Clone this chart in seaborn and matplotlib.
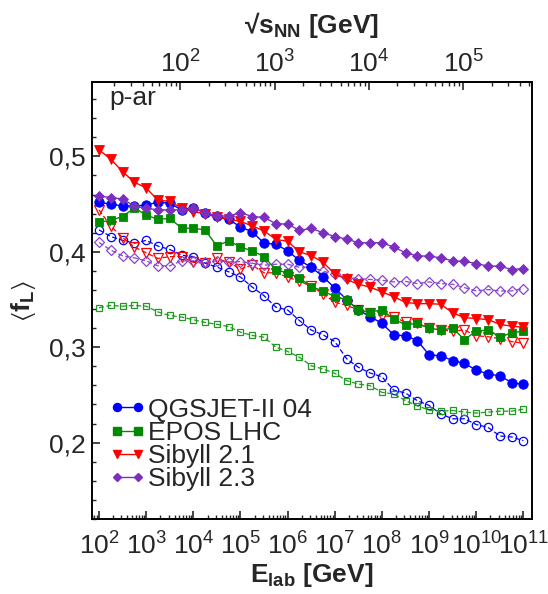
import numpy as np
import pandas as pd
import matplotlib
matplotlib.use("Agg")
import matplotlib.pyplot as plt
from matplotlib import ticker
from matplotlib.lines import Line2D
import seaborn as sns

# Energy grid: log10(E_lab / GeV), quarter-decade steps
log_elab = np.arange(2.0, 11.0001, 0.25)

qgsjet_solid = [0.452, 0.450, 0.448, 0.448, 0.449, 0.452, 0.451, 0.444, 0.446, 0.441,
                0.4375, 0.434, 0.426, 0.421, 0.409, 0.408, 0.401, 0.391, 0.384, 0.374,
                0.362, 0.350, 0.339, 0.332, 0.325, 0.313, 0.312, 0.307, 0.292, 0.291,
                0.286, 0.283, 0.276, 0.272, 0.270, 0.263, 0.261]
qgsjet_dashed = [0.423, 0.416, 0.412, 0.409, 0.412, 0.406, 0.4025, 0.3965, 0.395, 0.388,
                 0.384, 0.379, 0.3735, 0.363, 0.354, 0.342, 0.339, 0.328, 0.318, 0.313,
                 0.306, 0.288, 0.279, 0.273, 0.269, 0.255, 0.252, 0.244, 0.239, 0.230,
                 0.225, 0.225, 0.219, 0.216, 0.207, 0.206, 0.202]
epos_solid = [0.431, 0.433, 0.437, 0.446, 0.4386, 0.434, 0.435, 0.425, 0.4246, 0.423,
              0.406, 0.4116, 0.405, 0.401, 0.395, 0.381, 0.378, 0.3726, 0.3635, 0.359,
              0.353, 0.350, 0.3386, 0.337, 0.339, 0.3295, 0.3235, 0.325, 0.320, 0.318,
              0.320, 0.308, 0.317, 0.318, 0.311, 0.315, 0.317]
epos_dashed = [0.3414, 0.3438, 0.343, 0.3438, 0.343, 0.337, 0.3333, 0.3316, 0.3288, 0.326,
               0.324, 0.3216, 0.3158, 0.3123, 0.3105, 0.300, 0.2956, 0.2894, 0.2806, 0.2772,
               0.2727, 0.265, 0.2614, 0.2597, 0.2527, 0.251, 0.244, 0.2388, 0.234, 0.233,
               0.2337, 0.232, 0.231, 0.232, 0.233, 0.233, 0.2351]
sibyll21_solid = [0.507, 0.497, 0.484, 0.473, 0.467, 0.454, 0.453, 0.446, 0.442, 0.440,
                  0.436, 0.434, 0.432, 0.427, 0.422, 0.413, 0.411, 0.400, 0.396, 0.389,
                  0.377, 0.371, 0.366, 0.363, 0.358, 0.353, 0.347, 0.3457, 0.3457, 0.345,
                  0.336, 0.331, 0.330, 0.329, 0.324, 0.322, 0.321]
sibyll21_dashed = [0.444, 0.427, 0.415, 0.405, 0.399, 0.393, 0.395, 0.395, 0.389, 0.388,
                   0.393, 0.389, 0.382, 0.386, 0.378, 0.378, 0.3735, 0.369, 0.364, 0.356,
                   0.347, 0.344, 0.339, 0.336, 0.333, 0.332, 0.326, 0.325, 0.320, 0.318,
                   0.317, 0.318, 0.312, 0.311, 0.309, 0.306, 0.304]
sibyll23_solid = [0.4586, 0.4568, 0.4554, 0.448, 0.4456, 0.444, 0.444, 0.444, 0.4456, 0.441,
                  0.4375, 0.4375, 0.441, 0.437, 0.436, 0.4295, 0.429, 0.4225, 0.4246, 0.420,
                  0.416, 0.4134, 0.4095, 0.4095, 0.4095, 0.405, 0.399, 0.3958, 0.3954, 0.3937,
                  0.3905, 0.390, 0.3877, 0.385, 0.385, 0.3814, 0.3825]
sibyll23_dashed = [0.4098, 0.4018, 0.3958, 0.3937, 0.3905, 0.3853, 0.3853, 0.3905, 0.3905, 0.3888,
                   0.3905, 0.3895, 0.3897, 0.388, 0.386, 0.387, 0.387, 0.3837, 0.384, 0.3797,
                   0.3765, 0.373, 0.372, 0.371, 0.3702, 0.3684, 0.369, 0.3667, 0.3684, 0.3667,
                   0.366, 0.3625, 0.359, 0.3604, 0.359, 0.359, 0.3614]

model_names = ["QGSJET-II 04", "EPOS LHC", "Sibyll 2.1", "Sibyll 2.3"]
elab_decades = [1e2, 1e3, 1e4, 1e5, 1e6, 1e7, 1e8, 1e9, 1e10, 1e11]
sqrts_decades = [1e2, 1e3, 1e4, 1e5]
y_ticks = [0.2, 0.3, 0.4, 0.5]
y_tick_labels = ["0,2", "0,3", "0,4", "0,5"]

BLUE = "#0000ff"
GREEN = "#008a00"
RED = "#ff0000"
PURPLE = "#7a2fc0"

sns.set_style("ticks")
plt.rcParams["font.family"] = ["Liberation Sans", "DejaVu Sans"]
plt.rcParams["mathtext.fontset"] = "custom"
plt.rcParams["mathtext.rm"] = "Liberation Sans"
plt.rcParams["mathtext.bf"] = "Liberation Sans:bold"
plt.rcParams["mathtext.it"] = "Liberation Sans:italic"
plt.rcParams["mathtext.fallback"] = "stixsans"

FS = 19

fig = plt.figure(figsize=(5.48, 5.94), dpi=100)
ax = fig.add_axes([0.1673, 0.1263, 0.8030, 0.7357])

e_lab = 10 ** log_elab
series = [
    (qgsjet_dashed, BLUE, "o", 6.0, False),
    (epos_dashed, "#1f9a1f", "s", 5.0, False),
    (sibyll21_dashed, RED, "v", 6.5, False),
    (sibyll23_dashed, "#8a45cc", "D", 4.8, False),
    (qgsjet_solid, BLUE, "o", 6.8, True),
    (epos_solid, GREEN, "s", 6.2, True),
    (sibyll21_solid, RED, "v", 7.6, True),
    (sibyll23_solid, PURPLE, "D", 5.3, True),
]
for vals, col, mk, ms, filled in series:
    df = pd.DataFrame({"E": e_lab, "fL": vals})
    sns.lineplot(
        data=df, x="E", y="fL", ax=ax, color=col, marker=mk, markersize=ms,
        markerfacecolor=col if filled else "none", markeredgecolor=col,
        markeredgewidth=0.6 if filled else 0.9,
        linewidth=1.0 if filled else 0.9,
        linestyle="-" if filled else (0, (4, 2)),
        errorbar=None, legend=False,
    )

ax.set_xscale("log")
ax.set_xlim(70, 1.5e11)
ax.set_ylim(0.12, 0.578)

ax.xaxis.set_major_locator(ticker.FixedLocator(elab_decades))
ax.xaxis.set_minor_locator(ticker.LogLocator(base=10, subs=np.arange(2, 10), numticks=200))
ax.xaxis.set_major_formatter(ticker.LogFormatterSciNotation())
ax.xaxis.set_minor_formatter(ticker.NullFormatter())
ax.yaxis.set_major_locator(ticker.FixedLocator(y_ticks))
ax.yaxis.set_major_formatter(ticker.FixedFormatter(y_tick_labels))
ax.yaxis.set_minor_locator(ticker.MultipleLocator(0.02))

for s in ax.spines.values():
    s.set_linewidth(1.4)
    s.set_color("black")

ax.tick_params(axis="both", which="major", direction="in", length=6, width=1.2,
               labelsize=FS, top=False, right=False)
ax.tick_params(axis="both", which="minor", direction="in", length=3.2, width=1.0,
               top=False, right=False)
ax.tick_params(axis="x", which="major", pad=10)
ax.tick_params(axis="y", which="major", pad=4)

ax.set_xlabel(r"$\mathbf{E}_{\mathbf{lab}}$ [GeV]", fontsize=FS, fontweight="bold", labelpad=1)
ax.set_ylabel(r"$\langle\mathbf{f}_{\mathbf{L}}\rangle$", fontsize=FS, fontweight="bold", labelpad=8)

# Centre-of-mass energy per nucleon pair on the top axis
M_N = 0.938


def to_sqrt_s(e):
    e = np.asarray(e, dtype=float)
    return np.sqrt(np.maximum(2 * M_N * e + 2 * M_N ** 2, 1e-12))


def from_sqrt_s(s):
    s = np.asarray(s, dtype=float)
    return np.maximum((s ** 2 - 2 * M_N ** 2) / (2 * M_N), 1e-12)


top = ax.secondary_xaxis("top", functions=(to_sqrt_s, from_sqrt_s))
top.set_xscale("log")
top.xaxis.set_major_locator(ticker.FixedLocator(sqrts_decades))
top.xaxis.set_minor_locator(ticker.LogLocator(base=10, subs=np.arange(2, 10), numticks=200))
top.xaxis.set_major_formatter(ticker.LogFormatterSciNotation())
top.xaxis.set_minor_formatter(ticker.NullFormatter())
top.tick_params(axis="x", which="major", direction="in", length=6, width=1.2,
                labelsize=FS, pad=3)
top.tick_params(axis="x", which="minor", direction="in", length=3.2, width=1.0)
top.spines["top"].set_linewidth(1.4)
top.set_xlabel(r"√$\mathbf{s}_{\mathbf{NN}}$ [GeV]", fontsize=FS, fontweight="bold", labelpad=13)

ax.text(0.039, 0.947, "p-ar", transform=ax.transAxes, fontsize=FS, va="baseline", ha="left")

handles = [
    Line2D([], [], color=BLUE, marker="o", markersize=5.8, linewidth=1.0),
    Line2D([], [], color=GREEN, marker="s", markersize=5.2, linewidth=1.0),
    Line2D([], [], color=RED, marker="v", markersize=6.2, linewidth=1.0),
    Line2D([], [], color=PURPLE, marker="D", markersize=4.2, linewidth=1.0),
]
ax.legend(handles, model_names, loc="lower left", bbox_to_anchor=(0.039, 0.064),
          frameon=False, fontsize=FS, numpoints=2, handlelength=1.42,
          handletextpad=0.06, labelspacing=-0.034, borderpad=0.0, borderaxespad=0.0)

fig.savefig("out.png", dpi=100)
